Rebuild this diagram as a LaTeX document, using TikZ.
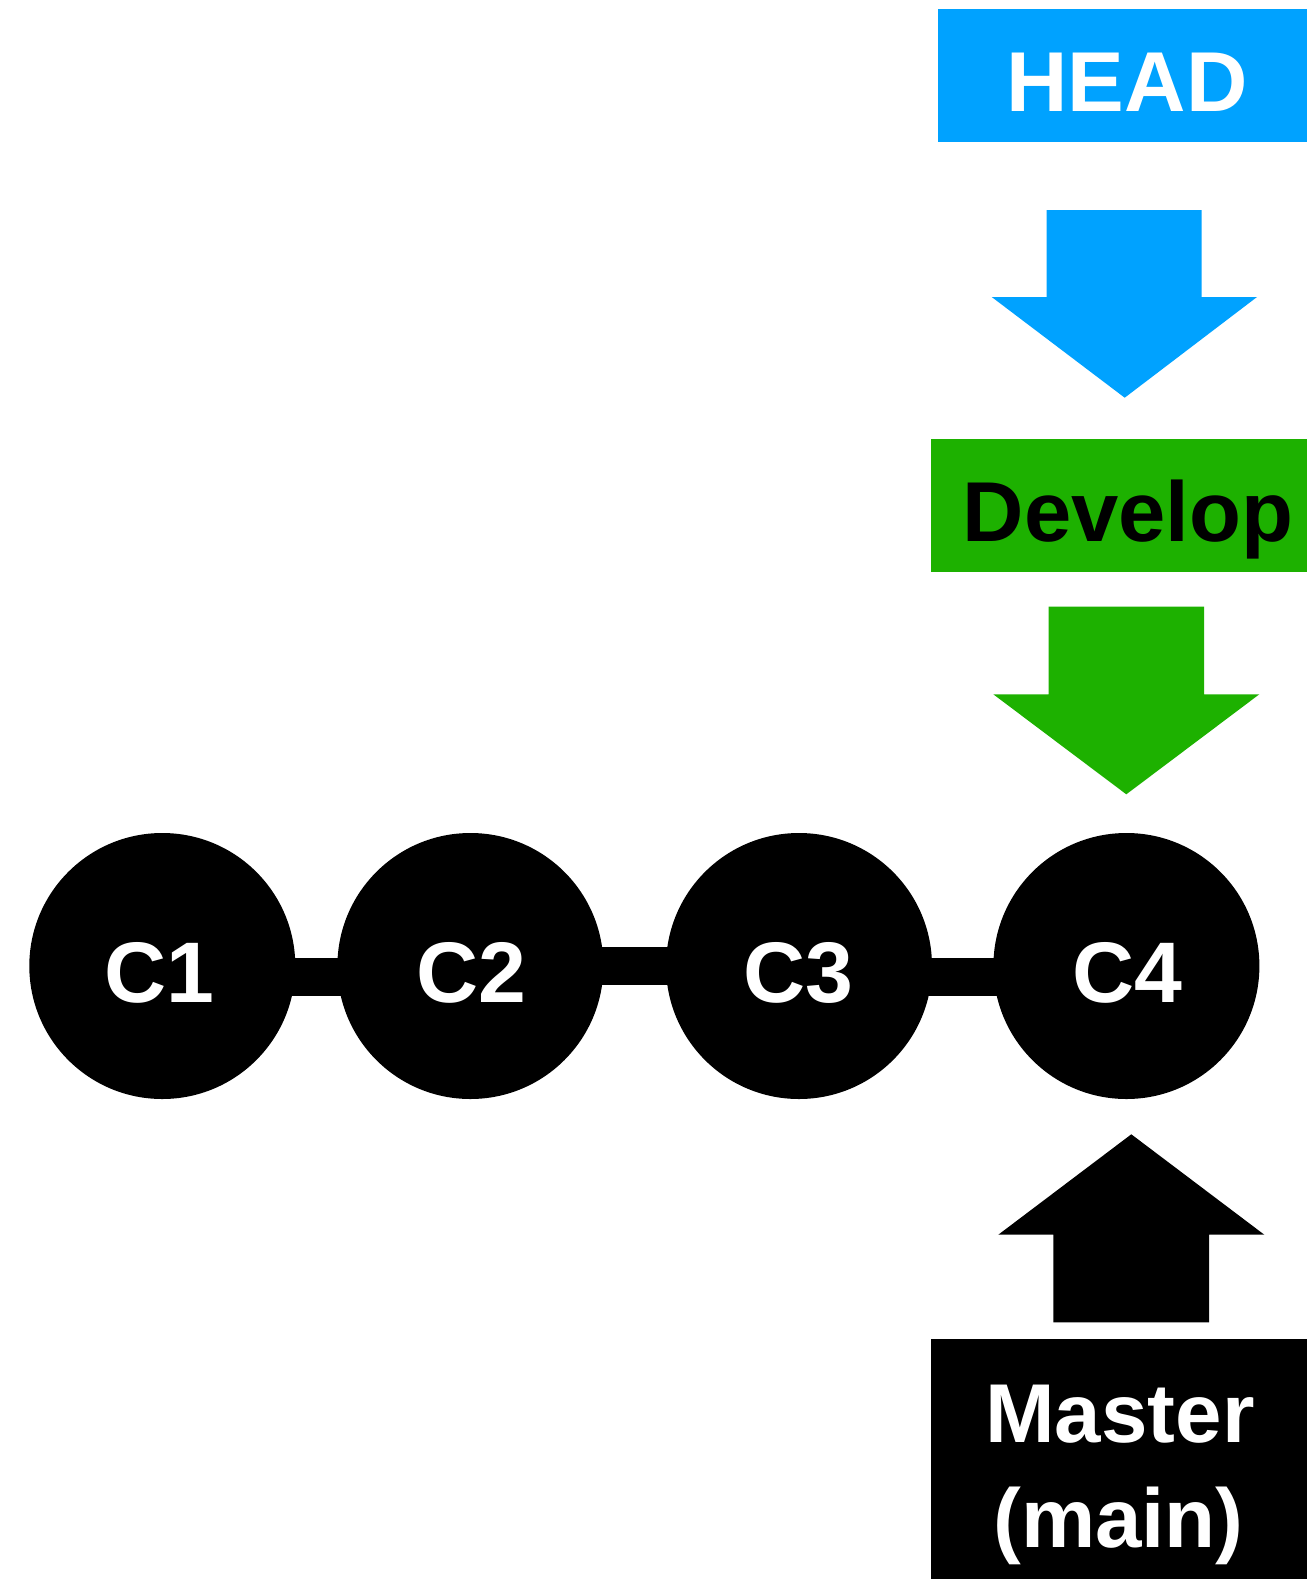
\documentclass[tikz,border=0pt]{standalone}
\usepackage{fontspec}
\setmainfont{Liberation Sans}
\definecolor{headblue}{RGB}{0,162,255}
\definecolor{devgreen}{RGB}{29,177,0}
\tikzset{
  label/.style={inner sep=0pt, anchor=base, font=\bfseries\fontsize{85}{100}\selectfont},
  commit/.style={circle, fill=black, minimum size=266pt, inner sep=0pt},
  ctext/.style={inner sep=0pt, anchor=base, text=white, font=\bfseries\fontsize{86}{100}\selectfont},
  bar/.style={line width=38pt, draw=black},
  blockarrow/.style={draw=none},
}
\begin{document}
\begin{tikzpicture}[x=1pt,y=-1pt]
\useasboundingbox (0,0) rectangle (1307,1579);
\fill[white] (0,0) rectangle (1307,1579);
% branch boxes
\fill[headblue] (938,9) rectangle (1307,142);
\node[label, text=white] (head) at (1127,111.7) {HEAD};
\fill[devgreen] (931,439) rectangle (1307,571.7);
\node[label, text=black] (develop) at (1128,541.7) {Develop};
\fill[black] (931,1339) rectangle (1307,1579);
\node[label, text=white, font=\bfseries\fontsize{83.5}{100}\selectfont] (master) at (1120,1442.7) {Master};
\node[label, text=white, font=\bfseries\fontsize{83.5}{100}\selectfont] (mainl) at (1118.5,1547.7) {(main)};
% block arrows
\fill[headblue] (1046.7,210) -- (1201.7,210) -- (1201.7,297) -- (1257,297) -- (1124.7,397.7) -- (991.7,297) -- (1046.7,297) -- cycle;
\fill[devgreen] (1048.7,606.7) -- (1204,606.7) -- (1204,694.3) -- (1259.3,694.3) -- (1126.3,794.3) -- (993.3,694.3) -- (1048.7,694.3) -- cycle;
\fill[black] (1131.3,1134.3) -- (1264.3,1234.7) -- (1209,1234.7) -- (1209,1322.3) -- (1053.3,1322.3) -- (1053.3,1234.7) -- (998.3,1234.7) -- cycle;
% commits
\node[commit] (c1) at (162.3,966) {};
\node[commit] (c2) at (470.4,966) {};
\node[commit] (c3) at (799,966) {};
\node[commit] (c4) at (1126.4,966) {};
% connectors
\draw[bar] ([xshift=-10pt,yshift=-10.7pt]c1.east) -- ([xshift=10pt,yshift=-10.7pt]c2.west);
\draw[bar] ([xshift=-10pt,yshift=0pt]c2.east) -- ([xshift=10pt,yshift=0pt]c3.west);
\draw[bar] ([xshift=-10pt,yshift=-10.7pt]c3.east) -- ([xshift=10pt,yshift=-10.7pt]c4.west);
% commit labels
\node[ctext] (t1) at (159.5,1002) {C1};
\node[ctext] (t2) at (471,1002) {C2};
\node[ctext] (t3) at (798,1002) {C3};
\node[ctext] (t4) at (1127,1002) {C4};
\end{tikzpicture}
\end{document}
